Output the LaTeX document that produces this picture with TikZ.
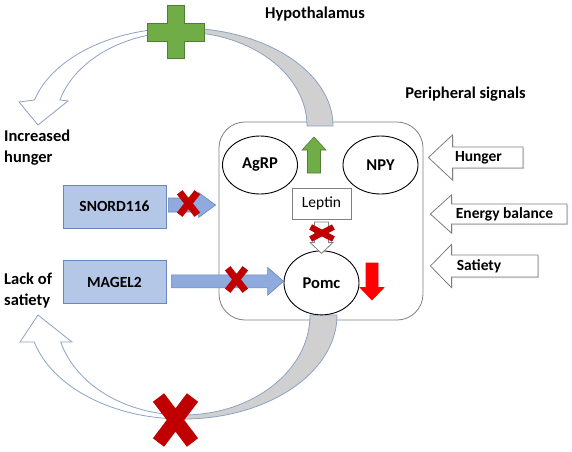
\documentclass[tikz,border=0pt]{standalone}
\usepackage{fontspec}
\setmainfont{Carlito}
\usepackage{tikz}
\usetikzlibrary{shapes,positioning,calc,shadows}
\definecolor{hpgreen}{RGB}{112,173,71}
\definecolor{hpgreendark}{RGB}{80,126,50}
\definecolor{hpred}{RGB}{192,0,0}
\definecolor{hpbright}{RGB}{255,0,0}
\definecolor{hpblue}{RGB}{180,199,231}
\definecolor{hpblueline}{RGB}{143,170,220}
\definecolor{hpbluedark}{RGB}{105,135,190}
\definecolor{hpgray}{RGB}{208,208,208}
\definecolor{hpline}{RGB}{127,127,127}
\definecolor{hpoutline}{RGB}{140,162,198}
\tikzstyle{region} = [rectangle, rounded corners=26pt, draw=hpline, line width=0.8pt, minimum width=204pt, minimum height=198pt]
\tikzstyle{cell} = [ellipse, draw=black, line width=0.9pt, fill=white, inner sep=0pt, minimum width=75pt, minimum height=58pt, font=\fontsize{16.5}{19}\selectfont\bfseries]
\tikzstyle{gene} = [rectangle, draw=hpbluedark, fill=hpblue, line width=0.8pt, minimum width=103pt, minimum height=43pt, font=\fontsize{15.5}{18}\selectfont\bfseries]
\tikzstyle{hormone} = [rectangle, draw=hpline, fill=white, line width=0.8pt, minimum width=59pt, minimum height=31pt, font=\fontsize{15.5}{18}\selectfont]
\tikzstyle{caption} = [font=\fontsize{16.5}{21}\selectfont\bfseries, align=left, inner sep=0pt]
\tikzstyle{sigtext} = [font=\fontsize{15.5}{18}\selectfont\bfseries, inner sep=0pt]
\tikzstyle{band} = [draw=hpoutline, line width=0.8pt]
\tikzstyle{genearrow} = [fill=hpblueline, draw=hpbluedark, line width=0.6pt]
\tikzstyle{sigarrow} = [draw=hpline, fill=white, line width=0.8pt, drop shadow={shadow xshift=1.2pt, shadow yshift=-1.2pt, opacity=0.3}]
\tikzset{
  blockarrow/.style n args={3}{to path={
    let \p1=(\tikztostart), \p2=(\tikztotarget),
        \n1={atan2(\y2-\y1,\x2-\x1)}, \n2={veclen(\x2-\x1,\y2-\y1)}, \n3={\n2-#3} in
    ([shift={(\p1)},rotate=\n1]0pt,-#1pt)
    -- ([shift={(\p1)},rotate=\n1]\n3,-#1pt)
    -- ([shift={(\p1)},rotate=\n1]\n3,-#2pt)
    -- ([shift={(\p1)},rotate=\n1]\n2,0pt)
    -- ([shift={(\p1)},rotate=\n1]\n3,#2pt)
    -- ([shift={(\p1)},rotate=\n1]\n3,#1pt)
    -- ([shift={(\p1)},rotate=\n1]0pt,#1pt) -- cycle}},
  pics/crossmark/.style n args={3}{code={
    \draw[hpred, line width=#3pt] (-#1,-#2) -- (#1,#2) (-#1,#2) -- (#1,-#2);}},
  pics/plusmark/.style={code={
    \draw[fill=hpgreen, draw=hpgreendark, line width=0.8pt] (-8.5,-26.5) -- (8.5,-26.5) -- (8.5,-9) -- (28.5,-9)
      -- (28.5,9) -- (8.5,9) -- (8.5,26.5) -- (-8.5,26.5) -- (-8.5,9) -- (-28.5,9) -- (-28.5,-9) -- (-8.5,-9) -- cycle;}}
}
\begin{document}
\begin{tikzpicture}[x=1pt, y=-1pt]
\useasboundingbox (0,0) rectangle (572,451);

% Hypothalamus
\node[region] (region) at (321,221) {};

% Feedback loop, top
\draw[band, fill=hpgray] (181,28) arc[start angle=-90, end angle=0, x radius=152, y radius=98]
  -- (307,126) arc[start angle=0, end angle=-90, x radius=126, y radius=94] -- cycle;
\draw[band, fill=white] (181,28) arc[start angle=-90, end angle=-164.6, x radius=152, y radius=98]
  -- (19,102) -- (38,125) -- (68,101) -- (59.9,99.9)
  arc[start angle=-163.9, end angle=-90, x radius=126, y radius=94] -- cycle;

% Feedback loop, bottom
\draw[band, fill=hpgray] (183,419) arc[start angle=90, end angle=0, x radius=154, y radius=104]
  -- (310,315) arc[start angle=0, end angle=90, x radius=127, y radius=100] -- cycle;
\draw[band, fill=white] (183,419) arc[start angle=90, end angle=164.9, x radius=154, y radius=104]
  -- (20,342) -- (38,315) -- (72,342) -- (60.7,342)
  arc[start angle=164.34, end angle=90, x radius=127, y radius=100] -- cycle;

% Loop marks
\pic at (175.5,32) {plusmark};
\pic at (175.5,420) {crossmark={17}{22.5}{14}};

% Neurons
\node[cell] (agrp) at (260,165) {AgRP};
\node[cell] (npy) at (380.5,165) {NPY};
\node[hormone] (leptin) at (321.5,203.5) {Leptin};
\node[cell, minimum height=64pt, below=31pt of leptin] (pomc) {Pomc};

% Genes
\node[gene] (snord) at (114.5,206.5) {SNORD116};
\node[gene, below=32pt of snord] (magel) {MAGEL2};

% Labels
\node[caption] (hypo) at (315,14) {Hypothalamus};
\node[caption] (periph) at (465.5,94) {Peripheral signals};
\node[caption, anchor=west] (hungerup) at (4,148) {Increased\\hunger};
\node[caption, anchor=west] (satlack) at (4,290) {Lack of\\satiety};

% Up / down
\coordinate (agrpT) at (314,173);
\coordinate (agrpH) at (314,137);
\draw[blockarrow={6.5}{12}{13}, fill=hpgreen, draw=hpgreendark, line width=0.6pt] (agrpT) to (agrpH);
\coordinate (pomcT) at (372,263);
\coordinate (pomcH) at (372,300);
\draw[blockarrow={6}{12}{12.5}, fill=hpbright, draw=hpbright, line width=0.6pt] (pomcT) to (pomcH);

% Connections
\coordinate (snordT) at ($(snord.east)+(2,-1.5)$);
\coordinate (snordH) at ($(region.west |- snordT)+(-3,0)$);
\draw[genearrow, blockarrow={7}{12.5}{17}] (snordT) to (snordH);
\coordinate (magelT) at ($(magel.east)+(5,-1)$);
\coordinate (magelH) at (pomc.west |- magelT);
\draw[genearrow, blockarrow={6.5}{14}{16}] (magelT) to (magelH);
\coordinate (leptinT) at ($(leptin.south)+(0,2.5)$);
\coordinate (leptinH) at ($(pomc.north)+(0,3)$);
\draw[blockarrow={7}{11.5}{11}, fill=white, draw=hpline, line width=0.8pt] (leptinT) to (leptinH);

% Blocked
\pic at (188.5,203.5) {crossmark={8.8}{11.2}{7}};
\pic at (236.5,279.5) {crossmark={8.8}{11.2}{7}};
\pic at (322,233) {crossmark={11.4}{6}{6}};

% Peripheral signals
\coordinate (hungerT) at (523,157.5);
\coordinate (hungerH) at ($(region.east |- hungerT)+(5,0)$);
\draw[sigarrow, blockarrow={10.5}{22.5}{24}] (hungerT) to (hungerH);
\node[sigtext] (hunger) at (478.5,158) {Hunger};
\coordinate (energyT) at (567,214);
\coordinate (energyH) at ($(region.east |- energyT)+(7,0)$);
\draw[sigarrow, blockarrow={10}{19}{21}] (energyT) to (energyH);
\node[sigtext] (energy) at (504.5,214) {Energy balance};
\coordinate (satietyT) at (538,266);
\coordinate (satietyH) at ($(region.east |- satietyT)+(7,0)$);
\draw[sigarrow, blockarrow={11}{21.5}{21}] (satietyT) to (satietyH);
\node[sigtext] (satiety) at (479,266.5) {Satiety};
\end{tikzpicture}
\end{document}
